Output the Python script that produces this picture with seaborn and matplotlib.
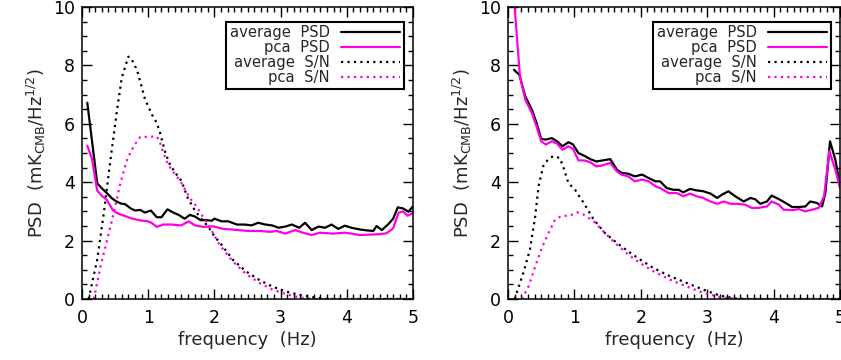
import numpy as np
import pandas as pd
import matplotlib
matplotlib.use("Agg")
import matplotlib.pyplot as plt
import seaborn as sns
from matplotlib.ticker import MultipleLocator

# ---------------- data ----------------
# Left panel
left_avg_psd_f = [0.08, 0.23, 0.30, 0.37, 0.45, 0.52, 0.60, 0.65, 0.73, 0.80, 0.88, 0.95, 1.04, 1.13, 1.20,
                  1.29, 1.38, 1.46, 1.55, 1.63, 1.71, 1.79, 1.88, 1.96, 2.00, 2.11, 2.21, 2.34, 2.46, 2.56,
                  2.66, 2.77, 2.87, 2.97, 3.07, 3.17, 3.28, 3.37, 3.47, 3.57, 3.67, 3.77, 3.87, 3.97, 4.07,
                  4.20, 4.30, 4.40, 4.45, 4.53, 4.63, 4.70, 4.77, 4.85, 4.93, 5.00]
left_avg_psd = [6.72, 3.96, 3.79, 3.64, 3.45, 3.34, 3.26, 3.25, 3.11, 3.03, 3.05, 2.96, 3.03, 2.80, 2.80,
                3.07, 2.96, 2.88, 2.75, 2.88, 2.82, 2.70, 2.70, 2.68, 2.75, 2.66, 2.66, 2.55, 2.55, 2.52,
                2.61, 2.55, 2.52, 2.44, 2.48, 2.55, 2.44, 2.61, 2.36, 2.48, 2.44, 2.55, 2.40, 2.51, 2.44,
                2.38, 2.35, 2.33, 2.50, 2.36, 2.57, 2.75, 3.14, 3.10, 2.99, 3.17]

left_pca_psd_f = [0.08, 0.15, 0.23, 0.30, 0.37, 0.47, 0.55, 0.65, 0.75, 0.88, 0.98, 1.05, 1.13, 1.23, 1.35,
                  1.50, 1.61, 1.71, 1.83, 1.98, 2.11, 2.26, 2.51, 2.69, 2.84, 2.94, 3.07, 3.22, 3.34, 3.47,
                  3.59, 3.79, 3.97, 4.07, 4.20, 4.50, 4.60, 4.70, 4.78, 4.85, 4.92, 5.00]
left_pca_psd = [5.25, 4.81, 3.71, 3.53, 3.41, 3.03, 2.92, 2.84, 2.76, 2.69, 2.67, 2.61, 2.47, 2.55, 2.55,
                2.52, 2.66, 2.52, 2.47, 2.49, 2.41, 2.38, 2.33, 2.33, 2.30, 2.33, 2.24, 2.36, 2.27, 2.19,
                2.27, 2.24, 2.27, 2.24, 2.19, 2.22, 2.25, 2.42, 2.95, 3.00, 2.85, 2.95]

left_avg_sn_f = [0.10, 0.23, 0.33, 0.43, 0.53, 0.60, 0.70, 0.74, 0.83, 0.88, 0.95, 1.06, 1.13, 1.18, 1.26,
                 1.33, 1.40, 1.50, 1.60, 1.70, 1.80, 1.90, 2.00, 2.10, 2.28, 2.48, 2.68, 2.88, 3.09, 3.29,
                 3.49, 3.69, 5.00]
left_avg_sn = [0.0, 1.35, 2.95, 4.77, 6.48, 7.57, 8.30, 8.25, 7.85, 7.45, 6.85, 6.30, 6.03, 5.68, 5.00,
               4.60, 4.35, 4.05, 3.45, 3.05, 2.75, 2.50, 2.15, 1.88, 1.34, 0.94, 0.65, 0.42, 0.25, 0.14,
               0.06, 0.0, 0.0]

left_pca_sn_f = [0.18, 0.28, 0.38, 0.48, 0.58, 0.68, 0.78, 0.88, 1.00, 1.13, 1.18, 1.23, 1.30, 1.38, 1.48,
                 1.56, 1.63, 1.73, 1.83, 1.93, 2.08, 2.28, 2.48, 2.68, 2.88, 3.09, 3.29, 3.50, 5.00]
left_pca_sn = [0.0, 1.12, 2.03, 2.95, 3.97, 4.77, 5.23, 5.55, 5.55, 5.57, 5.34, 5.00, 4.60, 4.35, 4.05,
               3.74, 3.45, 3.17, 2.80, 2.45, 1.85, 1.28, 0.85, 0.55, 0.32, 0.16, 0.05, 0.0, 0.0]

# Right panel
right_avg_psd_f = [0.09, 0.17, 0.26, 0.36, 0.43, 0.50, 0.57, 0.66, 0.74, 0.82, 0.91, 0.98, 1.06, 1.16, 1.24,
                   1.33, 1.41, 1.54, 1.64, 1.71, 1.81, 1.91, 2.02, 2.12, 2.22, 2.29, 2.39, 2.49, 2.57, 2.64,
                   2.74, 2.84, 2.94, 3.05, 3.15, 3.22, 3.32, 3.42, 3.55, 3.65, 3.72, 3.80, 3.90, 3.97, 4.08,
                   4.18, 4.28, 4.38, 4.48, 4.55, 4.65, 4.73, 4.78, 4.85, 4.93, 5.00]
right_avg_psd = [7.85, 7.68, 6.94, 6.48, 6.03, 5.48, 5.46, 5.51, 5.40, 5.23, 5.37, 5.29, 5.00, 4.89, 4.79,
                 4.71, 4.74, 4.79, 4.43, 4.32, 4.29, 4.20, 4.26, 4.14, 4.03, 4.03, 3.80, 3.74, 3.74, 3.65,
                 3.77, 3.72, 3.69, 3.61, 3.46, 3.57, 3.69, 3.52, 3.34, 3.46, 3.42, 3.26, 3.34, 3.54, 3.42,
                 3.29, 3.15, 3.15, 3.17, 3.34, 3.29, 3.17, 3.63, 5.40, 4.77, 3.92]

right_pca_psd_f = [0.08, 0.10, 0.18, 0.26, 0.36, 0.43, 0.50, 0.57, 0.66, 0.74, 0.82, 0.91, 0.98, 1.06, 1.16,
                   1.24, 1.33, 1.41, 1.54, 1.64, 1.71, 1.81, 1.91, 2.02, 2.12, 2.22, 2.29, 2.42, 2.54, 2.64,
                   2.74, 2.84, 2.94, 3.05, 3.15, 3.25, 3.35, 3.45, 3.57, 3.67, 3.77, 3.90, 3.97, 4.08, 4.15,
                   4.28, 4.38, 4.48, 4.58, 4.68, 4.76, 4.84, 4.93, 5.00]
right_pca_psd = [11.0, 10.0, 7.63, 6.83, 6.37, 5.91, 5.40, 5.29, 5.40, 5.32, 5.11, 5.23, 5.14, 4.75, 4.74,
                 4.68, 4.54, 4.57, 4.66, 4.37, 4.26, 4.20, 4.03, 4.09, 4.03, 3.86, 3.80, 3.63, 3.63, 3.52,
                 3.61, 3.52, 3.46, 3.34, 3.26, 3.34, 3.26, 3.26, 3.23, 3.12, 3.12, 3.17, 3.34, 3.23, 3.06,
                 3.04, 3.08, 3.00, 3.06, 3.12, 3.52, 5.06, 4.43, 3.80]

right_avg_sn_f = [0.10, 0.23, 0.33, 0.41, 0.46, 0.53, 0.61, 0.68, 0.78, 0.83, 0.91, 1.01, 1.14, 1.29, 1.46,
                  1.64, 1.81, 1.99, 2.19, 2.44, 2.69, 2.94, 3.20, 3.45, 3.60, 5.00]
right_avg_sn = [0.0, 0.89, 1.69, 2.83, 3.86, 4.55, 4.80, 4.89, 4.83, 4.54, 3.97, 3.74, 3.29, 2.72, 2.26,
                1.92, 1.63, 1.35, 1.06, 0.78, 0.55, 0.32, 0.11, 0.01, 0.0, 0.0]

right_pca_sn_f = [0.21, 0.31, 0.41, 0.51, 0.61, 0.71, 0.81, 0.93, 1.04, 1.14, 1.29, 1.46, 1.64, 1.81, 1.99,
                  2.19, 2.44, 2.69, 2.94, 3.20, 3.45, 5.00]
right_pca_sn = [0.0, 0.43, 1.12, 1.75, 2.26, 2.72, 2.85, 2.85, 2.97, 2.89, 2.66, 2.26, 1.86, 1.52, 1.23,
                0.95, 0.66, 0.43, 0.21, 0.06, 0.0, 0.0]

labels = ["average  PSD", "pca  PSD", "average  S/N", "pca  S/N"]
x_ticks = [0, 1, 2, 3, 4, 5]
y_ticks = [0, 2, 4, 6, 8, 10]

# ---------------- style ----------------
sns.set_style("ticks")
plt.rcParams["font.family"] = ["DejaVu Sans"]
plt.rcParams["mathtext.default"] = "regular"

MAG = "#ff00e6"
BLK = "#000000"
DOT = (0, (1.0, 1.9))

fig = plt.figure(figsize=(8.41, 3.6), dpi=100)
ax1 = fig.add_axes([82 / 841, 61 / 360, 331 / 841, 292 / 360])
ax2 = fig.add_axes([508 / 841, 61 / 360, 332 / 841, 292 / 360])


def draw(ax, series):
    styles = [(BLK, "-"), (MAG, "-"), (BLK, DOT), (MAG, DOT)]
    for (f, v), lab, (c, ls) in zip(series, labels, styles):
        df = pd.DataFrame({"f": f, "v": v})
        sns.lineplot(data=df, x="f", y="v", ax=ax, color=c, linestyle=ls,
                     linewidth=1.6, label=lab, estimator=None, sort=False)
    ax.set_xlim(0, 5)
    ax.set_ylim(0, 10)
    ax.set_xticks(x_ticks)
    ax.set_yticks(y_ticks)
    ax.xaxis.set_minor_locator(MultipleLocator(0.1))
    ax.yaxis.set_minor_locator(MultipleLocator(0.5))
    ax.tick_params(which="both", direction="in", top=True, right=True,
                   width=1.0, colors="black", labelsize=12.5)
    ax.tick_params(which="major", length=7)
    ax.tick_params(which="minor", length=3.5)
    ax.tick_params(axis="x", pad=7)
    ax.tick_params(axis="y", pad=5)
    for s in ax.spines.values():
        s.set_visible(True)
        s.set_linewidth(1.1)
        s.set_color("black")
    ax.set_xlabel("frequency  (Hz)", fontsize=13, labelpad=3)
    ax.set_ylabel(r"PSD  (mK$_{CMB}$/Hz$^{1/2}$)", fontsize=13, labelpad=4)
    leg = ax.legend(loc="upper right", bbox_to_anchor=(0.973, 0.95), markerfirst=False,
                    frameon=True, fancybox=False, framealpha=1, edgecolor="black",
                    fontsize=10.6, handlelength=4.0, handletextpad=0.8,
                    labelspacing=0.0, borderpad=0.25, borderaxespad=0.0)
    leg.get_frame().set_linewidth(1.5)


draw(ax1, [(left_avg_psd_f, left_avg_psd), (left_pca_psd_f, left_pca_psd),
           (left_avg_sn_f, left_avg_sn), (left_pca_sn_f, left_pca_sn)])
draw(ax2, [(right_avg_psd_f, right_avg_psd), (right_pca_psd_f, right_pca_psd),
           (right_avg_sn_f, right_avg_sn), (right_pca_sn_f, right_pca_sn)])

fig.savefig("out.png", dpi=100)
